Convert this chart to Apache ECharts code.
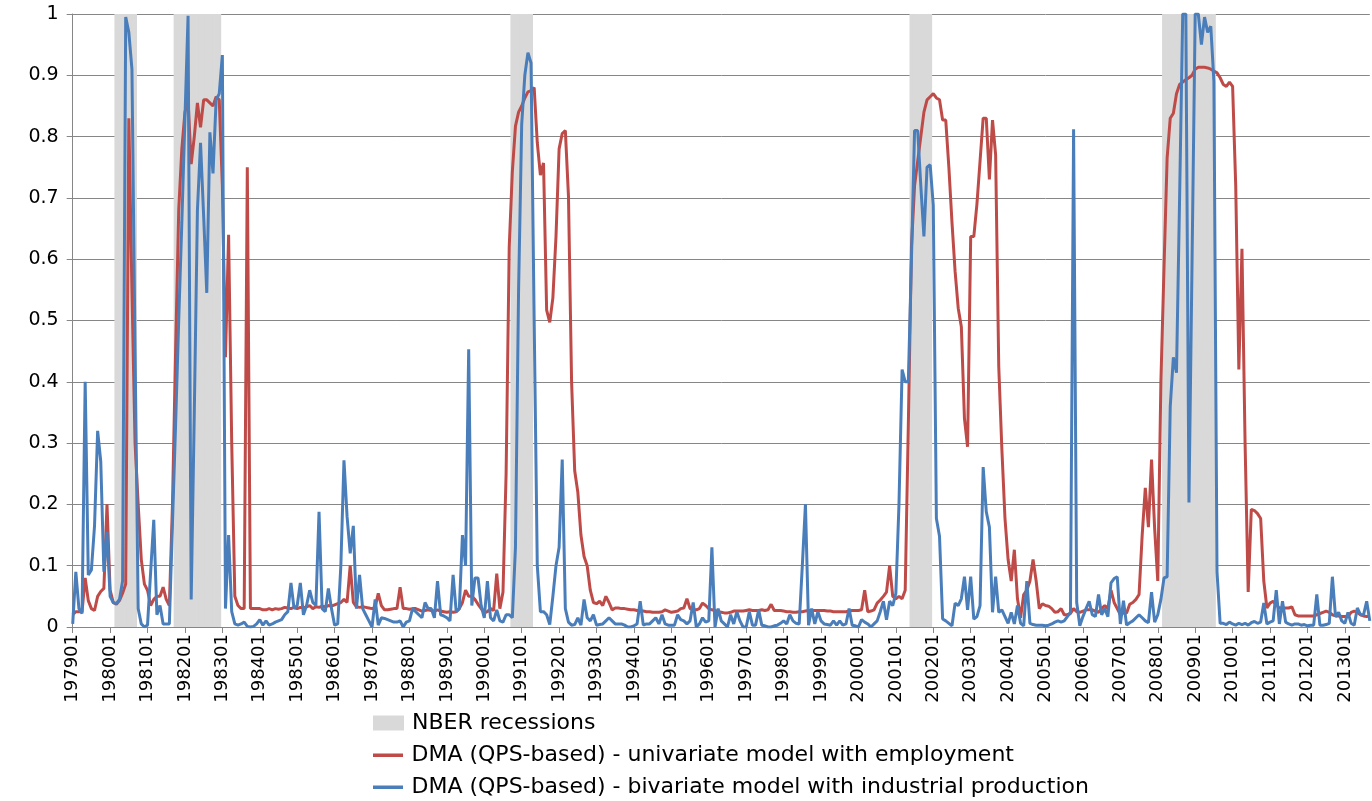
<!DOCTYPE html>
<html><head><meta charset="utf-8">
<script src="https://cdn.jsdelivr.net/npm/echarts@6/dist/echarts.min.js"></script>
<style>html,body{margin:0;padding:0;background:#fff}#c{width:1372px;height:801px}</style>
</head><body><div id="c"></div>
<script>
// Monthly observations from 197901 to 201309
const startYear = 1979;
const monthCount = 417;

// DMA (QPS-based) - univariate model with employment
const employment = [
  0.02,0.025,0.025,0.025,0.08,0.043,0.03,0.027,0.05,0.058,0.063,0.2,
  0.06,0.04,0.037,0.043,0.055,0.07,0.83,0.55,0.3,0.2,0.11,0.07,
  0.06,0.035,0.045,0.05,0.05,0.065,0.045,0.035,0.2,0.45,0.68,0.78,
  0.84,0.86,0.755,0.8,0.855,0.815,0.86,0.86,0.855,0.85,0.865,0.86,
  0.72,0.44,0.64,0.3,0.05,0.035,0.03,0.03,0.75,0.03,0.03,0.03,
  0.03,0.028,0.028,0.03,0.028,0.03,0.029,0.03,0.032,0.031,0.03,0.032,
  0.03,0.032,0.031,0.033,0.035,0.03,0.033,0.032,0.034,0.033,0.035,0.034,
  0.036,0.038,0.04,0.045,0.04,0.1,0.04,0.033,0.032,0.033,0.032,0.031,
  0.03,0.032,0.055,0.035,0.028,0.028,0.029,0.03,0.03,0.065,0.03,0.03,
  0.029,0.03,0.03,0.028,0.026,0.027,0.028,0.027,0.026,0.028,0.026,0.025,
  0.024,0.025,0.024,0.025,0.03,0.04,0.06,0.05,0.05,0.045,0.037,0.03,
  0.023,0.025,0.03,0.027,0.087,0.03,0.057,0.25,0.62,0.743,0.817,0.84,
  0.85,0.863,0.873,0.875,0.88,0.79,0.737,0.757,0.517,0.497,0.537,0.637,
  0.78,0.805,0.81,0.703,0.4,0.255,0.22,0.15,0.115,0.1,0.06,0.04,
  0.038,0.042,0.035,0.05,0.04,0.028,0.031,0.031,0.03,0.03,0.029,0.028,
  0.028,0.027,0.026,0.026,0.025,0.025,0.024,0.024,0.024,0.025,0.028,0.026,
  0.024,0.025,0.026,0.03,0.031,0.046,0.03,0.028,0.028,0.03,0.039,0.035,
  0.03,0.028,0.027,0.025,0.024,0.023,0.023,0.024,0.026,0.026,0.026,0.026,
  0.027,0.028,0.027,0.027,0.027,0.028,0.027,0.028,0.037,0.027,0.027,0.027,
  0.026,0.025,0.025,0.024,0.024,0.025,0.025,0.026,0.027,0.027,0.027,0.027,
  0.027,0.027,0.026,0.026,0.025,0.025,0.025,0.025,0.025,0.026,0.027,0.027,
  0.027,0.028,0.06,0.025,0.026,0.028,0.039,0.044,0.05,0.057,0.1,0.05,
  0.046,0.05,0.046,0.06,0.33,0.62,0.72,0.76,0.8,0.84,0.86,0.865,
  0.87,0.863,0.86,0.827,0.827,0.75,0.66,0.58,0.52,0.49,0.34,0.294,
  0.637,0.637,0.69,0.76,0.83,0.83,0.73,0.827,0.77,0.425,0.29,0.177,
  0.11,0.075,0.126,0.046,0.015,0.053,0.06,0.075,0.11,0.075,0.03,0.038,
  0.035,0.034,0.03,0.024,0.025,0.03,0.02,0.02,0.022,0.03,0.025,0.024,
  0.026,0.028,0.028,0.028,0.026,0.024,0.03,0.035,0.03,0.06,0.04,0.03,
  0.02,0.023,0.023,0.037,0.04,0.045,0.053,0.15,0.227,0.163,0.273,0.16,
  0.075,0.4,0.586,0.765,0.83,0.838,0.87,0.885,0.889,0.893,0.896,0.9,
  0.91,0.913,0.913,0.913,0.912,0.91,0.907,0.904,0.896,0.885,0.882,0.889,
  0.882,0.72,0.42,0.617,0.3,0.057,0.192,0.19,0.185,0.177,0.075,0.031,
  0.039,0.042,0.036,0.031,0.031,0.031,0.031,0.033,0.02,0.018,0.018,0.018,
  0.018,0.018,0.018,0.02,0.022,0.024,0.026,0.024,0.02,0.018,0.018,0.017,
  0.017,0.017,0.024,0.026,0.024,0.02,0.018,0.017,0.018
];

// DMA (QPS-based) - bivariate model with industrial production
const industrial = [
  0.005,0.09,0.03,0.022,0.40,0.085,0.093,0.165,0.32,0.27,0.09,0.155,
  0.05,0.04,0.038,0.045,0.075,0.995,0.97,0.91,0.45,0.03,0.005,0.0,
  0.003,0.09,0.175,0.02,0.035,0.005,0.005,0.005,0.17,0.33,0.5,0.66,
  0.83,0.997,0.045,0.35,0.68,0.79,0.67,0.545,0.807,0.74,0.86,0.87,
  0.933,0.03,0.15,0.025,0.005,0.003,0.005,0.008,0.001,0.0,0.001,0.005,
  0.012,0.003,0.01,0.003,0.005,0.008,0.01,0.012,0.02,0.025,0.072,0.03,
  0.035,0.072,0.02,0.035,0.06,0.04,0.035,0.188,0.03,0.025,0.063,0.03,
  0.003,0.005,0.1,0.272,0.18,0.12,0.165,0.03,0.085,0.03,0.02,0.01,
  0.0,0.045,0.003,0.015,0.014,0.012,0.01,0.008,0.008,0.01,0.0,0.008,
  0.01,0.03,0.025,0.02,0.015,0.04,0.03,0.03,0.015,0.075,0.02,0.018,
  0.015,0.01,0.085,0.025,0.03,0.15,0.1,0.453,0.035,0.08,0.08,0.035,
  0.015,0.075,0.015,0.01,0.028,0.01,0.008,0.02,0.02,0.015,0.13,0.55,
  0.82,0.9,0.937,0.92,0.5,0.1,0.025,0.025,0.02,0.004,0.05,0.1,
  0.13,0.273,0.03,0.008,0.003,0.004,0.015,0.003,0.045,0.015,0.01,0.02,
  0.003,0.004,0.005,0.01,0.015,0.01,0.005,0.005,0.005,0.003,0.0,0.0,
  0.002,0.005,0.042,0.003,0.005,0.005,0.01,0.015,0.005,0.02,0.005,0.003,
  0.003,0.003,0.02,0.012,0.01,0.005,0.01,0.04,0.0,0.005,0.015,0.008,
  0.01,0.13,0.0,0.03,0.01,0.005,0.0,0.02,0.005,0.025,0.01,0.0,
  0.0,0.025,0.003,0.003,0.028,0.003,0.002,0.0,0.0,0.002,0.003,0.006,
  0.01,0.005,0.02,0.01,0.006,0.005,0.1,0.2,0.003,0.03,0.005,0.025,
  0.01,0.005,0.004,0.003,0.01,0.003,0.01,0.003,0.005,0.03,0.003,0.002,
  0.0,0.012,0.008,0.005,0.0,0.005,0.01,0.025,0.042,0.012,0.042,0.035,
  0.055,0.2,0.42,0.4,0.4,0.6,0.81,0.81,0.72,0.637,0.75,0.754,
  0.688,0.177,0.148,0.013,0.01,0.006,0.002,0.039,0.035,0.046,0.082,0.028,
  0.082,0.013,0.017,0.035,0.261,0.188,0.163,0.024,0.082,0.024,0.028,0.017,
  0.006,0.024,0.005,0.035,0.006,0.002,0.075,0.006,0.004,0.003,0.003,0.003,
  0.002,0.003,0.005,0.008,0.01,0.008,0.01,0.017,0.024,0.812,0.04,0.002,
  0.017,0.03,0.042,0.02,0.017,0.053,0.02,0.03,0.017,0.072,0.079,0.082,
  0.005,0.043,0.003,0.007,0.01,0.015,0.02,0.015,0.01,0.007,0.057,0.008,
  0.02,0.045,0.08,0.082,0.36,0.44,0.415,0.7,1.0,1.0,0.203,0.6,
  1.0,1.0,0.95,0.995,0.97,0.98,0.89,0.09,0.006,0.006,0.004,0.008,
  0.005,0.003,0.006,0.004,0.006,0.003,0.007,0.009,0.006,0.008,0.039,0.005,
  0.008,0.01,0.06,0.005,0.042,0.008,0.005,0.003,0.005,0.005,0.003,0.004,
  0.002,0.003,0.003,0.053,0.003,0.003,0.004,0.006,0.082,0.017,0.024,0.01,
  0.006,0.024,0.006,0.003,0.031,0.02,0.02,0.042,0.01
];

// Shaded recession months (first and last shaded month)
const recessions = [
  ['198003', '198009'],
  ['198110', '198212'],
  ['199010', '199104'],
  ['200106', '200112'],
  ['200803', '200907']
];

const seriesNames = [
  'NBER recessions',
  'DMA (QPS-based) - univariate model with employment',
  'DMA (QPS-based) - bivariate model with industrial production'
];

const colors = {recession: '#D9D9D9', employment: '#BE4B48', industrial: '#4A7EBB', axis: '#868686'};
const lineIcon = 'path://M0,0L0.01,0M0,15L0.01,15M0,6H30V9.5H0Z';
const legendIcons = ['rect', lineIcon, lineIcon];
const legendColors = [colors.recession, colors.employment, colors.industrial];
const legendTops = [712, 744, 776];

const months = [];
for (let i = 0; i < monthCount; i++) {
  const y = startYear + Math.floor(i / 12), m = (i % 12) + 1;
  months.push(String(y) + (m < 10 ? '0' : '') + m);
}
const recessionBars = months.map(mo => recessions.some(([a, b]) => mo >= a && mo <= b) ? 1 : null);

const legends = seriesNames.map((name, k) => ({
  orient: 'vertical',
  left: 373,
  top: legendTops[k],
  padding: 0,
  itemWidth: 31,
  itemHeight: 15,
  itemStyle: {borderWidth: 0},
  textStyle: {fontFamily: 'DejaVu Sans', fontSize: 22, color: '#000', padding: [0, 0, 0, 3]},
  data: [{name: name, icon: legendIcons[k], itemStyle: {color: legendColors[k]}}]
}));

const chart = echarts.init(document.getElementById('c'), null, {renderer: 'canvas'});
chart.setOption({
  animation: false,
  backgroundColor: '#ffffff',
  grid: {left: 72.7, right: 2.2, top: 14, bottom: 174, containLabel: false},
  legend: legends,
  xAxis: {
    type: 'category',
    data: months,
    boundaryGap: false,
    axisLine: {lineStyle: {color: colors.axis, width: 1}},
    axisTick: {interval: 11, length: 6, lineStyle: {color: colors.axis}},
    axisLabel: {interval: 11, rotate: 90, margin: 7, fontFamily: 'DejaVu Sans', fontSize: 18, color: '#000'},
    splitLine: {show: false}
  },
  yAxis: {
    type: 'value',
    min: 0,
    max: 1,
    interval: 0.1,
    axisLine: {show: true, lineStyle: {color: colors.axis, width: 1}},
    axisTick: {show: true, length: 6, lineStyle: {color: colors.axis}},
    axisLabel: {margin: 14, fontFamily: 'DejaVu Sans', fontSize: 19, color: '#000'},
    splitLine: {show: true, lineStyle: {color: colors.axis, width: 1}}
  },
  series: [
    {
      name: seriesNames[0],
      type: 'bar',
      data: recessionBars,
      barWidth: '125%',
      itemStyle: {color: colors.recession},
      silent: true,
      z: 1
    },
    {
      name: seriesNames[1],
      type: 'line',
      data: employment,
      symbol: 'none',
      lineStyle: {color: colors.employment, width: 3},
      itemStyle: {color: colors.employment},
      z: 3
    },
    {
      name: seriesNames[2],
      type: 'line',
      data: industrial,
      symbol: 'none',
      lineStyle: {color: colors.industrial, width: 3},
      itemStyle: {color: colors.industrial},
      z: 4
    }
  ]
});
</script>
</body></html>
